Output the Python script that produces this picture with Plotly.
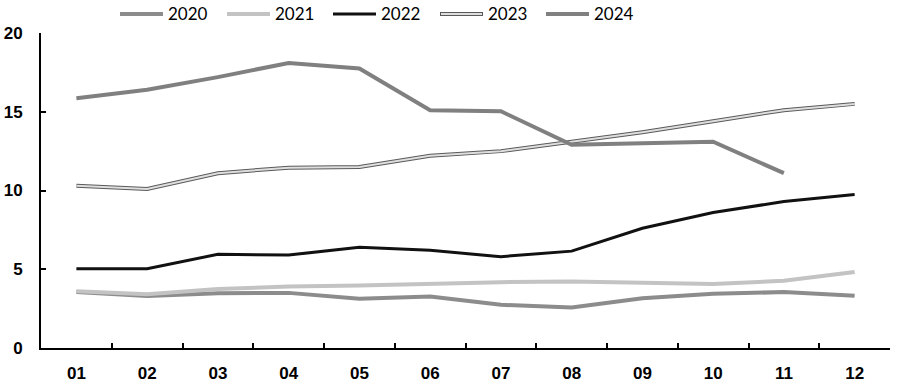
import plotly.graph_objects as go

months = ["01", "02", "03", "04", "05", "06", "07", "08", "09", "10", "11", "12"]
s2020 = [3.55, 3.3, 3.48, 3.5, 3.12, 3.27, 2.74, 2.57, 3.16, 3.44, 3.55, 3.31]
s2021 = [3.6, 3.42, 3.74, 3.9, 3.97, 4.08, 4.18, 4.22, 4.16, 4.06, 4.27, 4.82]
s2022 = [5.03, 5.03, 5.95, 5.9, 6.4, 6.2, 5.8, 6.15, 7.6, 8.6, 9.3, 9.75]
s2023 = [10.3, 10.1, 11.1, 11.45, 11.5, 12.2, 12.5, 13.1, 13.7, 14.4, 15.1, 15.5]
s2024 = [15.86, 16.4, 17.2, 18.1, 17.75, 15.1, 15.03, 12.9, 13.0, 13.1, 11.1, None]
years = ["2020", "2021", "2022", "2023", "2024"]
y_ticks = [0, 5, 10, 15, 20]

fig = go.Figure()
fig.add_trace(go.Scatter(x=months, y=s2020, mode="lines", line=dict(color="#8c8c8c", width=4), name="2020"))
fig.add_trace(go.Scatter(x=months, y=s2021, mode="lines", line=dict(color="#c3c3c3", width=4), name="2021"))
fig.add_trace(go.Scatter(x=months, y=s2022, mode="lines", line=dict(color="#111111", width=3), name="2022"))
fig.add_trace(go.Scatter(x=months, y=s2023, mode="lines", line=dict(color="#5a5a5a", width=4), name="2023"))
fig.add_trace(go.Scatter(x=months, y=s2023, mode="lines", line=dict(color="#dedede", width=2), name="2023i"))
fig.add_trace(go.Scatter(x=months, y=s2024, mode="lines", line=dict(color="#808080", width=4), name="2024"))

# manual legend (paper coords)
L, R, T, B = 41, 10, 33, 38
W, H = 900 - L - R, 386 - T - B
def px(x):
    return (x - L) / W
def py(y):
    return (386 - B - y) / H

leg_x = [120, 227, 333, 440, 546]
leg_col = ["#8c8c8c", "#c3c3c3", "#111111", "#5a5a5a", "#808080"]
leg_w = [4, 4, 3, 4, 4]
shapes = []
annotations = []
ly = 14
for i, yr in enumerate(years):
    x0 = leg_x[i]
    shapes.append(dict(type="line", xref="paper", yref="paper", x0=px(x0), x1=px(x0 + 43),
                       y0=py(ly), y1=py(ly), line=dict(color=leg_col[i], width=leg_w[i])))
    if yr == "2023":
        shapes.append(dict(type="line", xref="paper", yref="paper", x0=px(x0 + 1), x1=px(x0 + 42),
                           y0=py(ly), y1=py(ly), line=dict(color="#dedede", width=2)))
    annotations.append(dict(text=yr, xref="paper", yref="paper", x=px(x0 + 46), y=py(ly),
                            xanchor="left", yanchor="middle", showarrow=False,
                            font=dict(family="Lato, Liberation Sans", size=17, color="#000")))

fig.update_layout(
    width=900, height=386,
    margin=dict(l=L, r=R, t=T, b=B),
    paper_bgcolor="white", plot_bgcolor="white",
    showlegend=False,
    shapes=shapes, annotations=annotations,
    xaxis=dict(type="category", range=[-0.5, 11.5], showgrid=False, showline=True,
               linecolor="#000", linewidth=2, ticks="inside", tickson="boundaries",
               ticklen=5, tickwidth=1.5, tickcolor="#000", automargin=False,
               tickfont=dict(family="Liberation Sans", size=17, color="#000", weight="bold"),
               ticklabelstandoff=9),
    yaxis=dict(range=[0, 20], tickvals=y_ticks, showgrid=False, showline=True, zeroline=False,
               linecolor="#000", linewidth=2, ticks="inside", ticklen=5, tickwidth=1.5,
               tickcolor="#000", automargin=False,
               tickfont=dict(family="Liberation Sans", size=17, color="#000", weight="bold"),
               ticklabelstandoff=13),
)
fig.write_html("out.html")
